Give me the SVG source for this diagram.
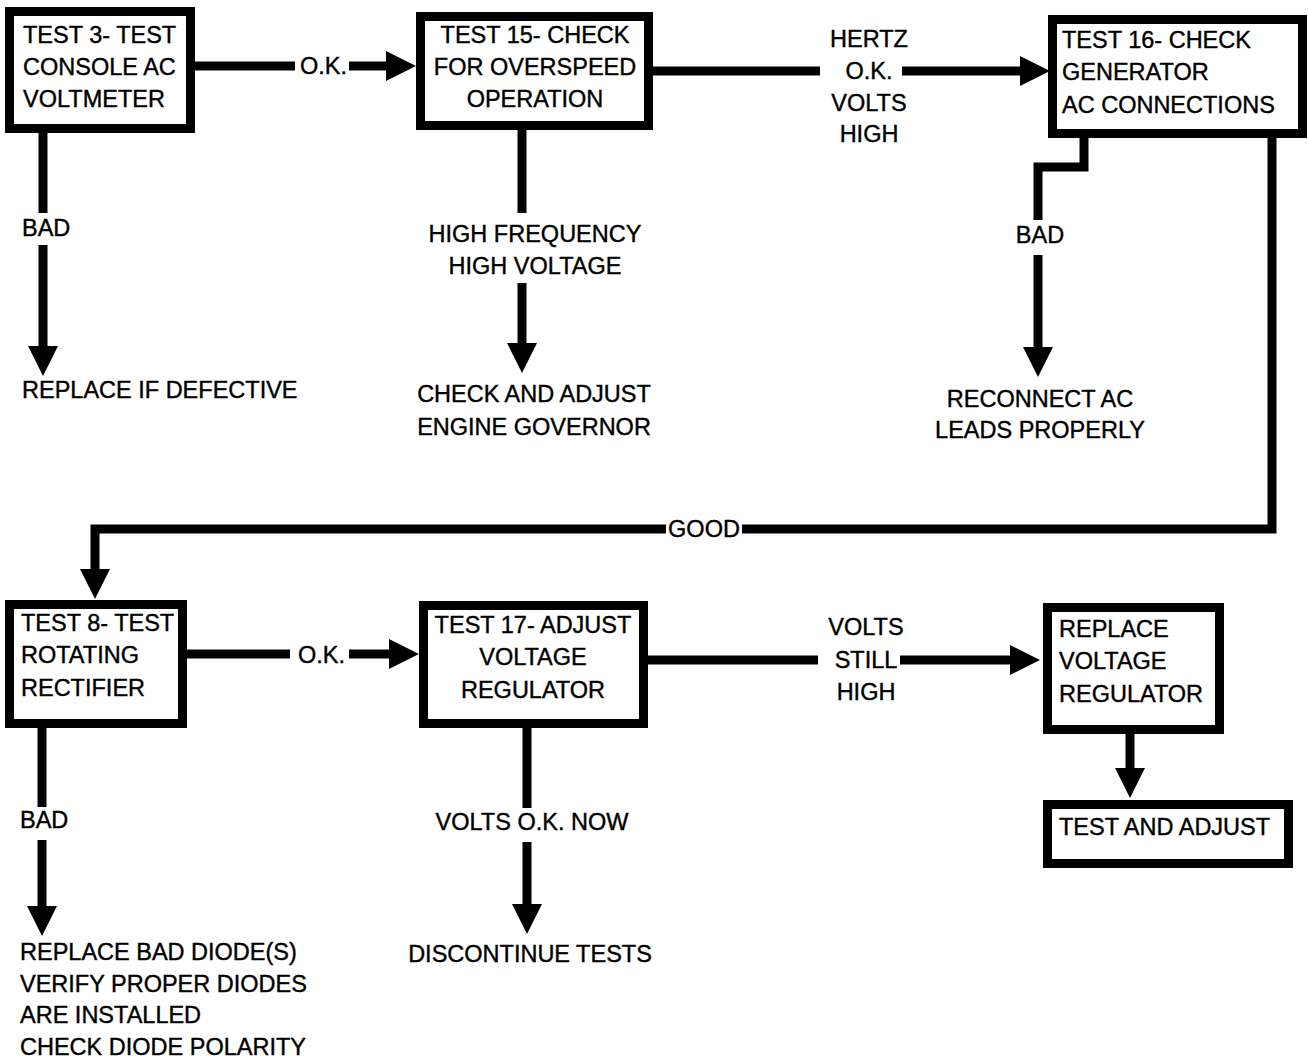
<svg xmlns="http://www.w3.org/2000/svg" width="1308" height="1059" viewBox="0 0 1308 1059">
<defs>
<marker id="ah" markerUnits="userSpaceOnUse" markerWidth="30" markerHeight="30" refX="0" refY="15" orient="auto">
<path d="M0,0 L30,15 L0,30 Z" fill="#000"/>
</marker>
<style>
text{font-family:"Liberation Sans",Arial,sans-serif;font-size:23.5px;fill:#000;stroke:#000;stroke-width:0.4}
.box{fill:#fff;stroke:#000;stroke-width:9}
.c{text-anchor:middle}
.ln{fill:none;stroke:#000;stroke-width:9}
.ar{fill:none;stroke:#000;stroke-width:9;marker-end:url(#ah)}
</style>
</defs>
<rect width="1308" height="1059" fill="#fff"/>
<g id="connectors">
<path class="ln" d="M195,66 H295"/>
<path class="ar" d="M349,66 H386"/>
<path class="ln" d="M43,133 V213"/>
<path class="ar" d="M43,245 V346"/>
<path class="ln" d="M522,130 V213"/>
<path class="ar" d="M522,283 V343"/>
<path class="ln" d="M653,71 H820"/>
<path class="ar" d="M902,71 H1020"/>
<path class="ln" d="M1084,138 V167 H1038 V220"/>
<path class="ar" d="M1038,255 V347"/>
<path class="ln" d="M1272,138 V529 H742"/>
<path class="ar" d="M666,529 H95 V569"/>
<path class="ln" d="M187,654 H290"/>
<path class="ar" d="M349,654 H389"/>
<path class="ln" d="M42,728 V807"/>
<path class="ar" d="M42,840 V906"/>
<path class="ln" d="M527,728 V808"/>
<path class="ar" d="M527,842 V904"/>
<path class="ln" d="M648,660 H818"/>
<path class="ar" d="M900,660 H1010"/>
<path class="ar" d="M1130,734 V768"/>
<text x="300" y="74">O.K.</text>
<text x="22" y="236">BAD</text>
<text class="c" x="535" y="242">HIGH FREQUENCY</text>
<text class="c" x="535" y="274">HIGH VOLTAGE</text>
<text class="c" x="869" y="47">HERTZ</text>
<text class="c" x="869" y="79">O.K.</text>
<text class="c" x="869" y="111">VOLTS</text>
<text class="c" x="869" y="142">HIGH</text>
<text class="c" x="1040" y="243">BAD</text>
<text class="c" x="704" y="537">GOOD</text>
<text x="298" y="663">O.K.</text>
<text x="20" y="828">BAD</text>
<text class="c" x="532" y="830">VOLTS O.K. NOW</text>
<text class="c" x="866" y="635">VOLTS</text>
<text class="c" x="866" y="668">STILL</text>
<text class="c" x="866" y="700">HIGH</text>
</g>
<g id="test3">
<rect class="box" x="9.5" y="11.5" width="181" height="117"/>
<text x="23" y="43">TEST 3- TEST</text>
<text x="23" y="75">CONSOLE AC</text>
<text x="23" y="107">VOLTMETER</text>
</g>
<g id="replace-defective">
<text x="22" y="398">REPLACE IF DEFECTIVE</text>
</g>
<g id="test15">
<rect class="box" x="420.5" y="16.5" width="228" height="109"/>
<text class="c" x="535" y="43">TEST 15- CHECK</text>
<text class="c" x="535" y="75">FOR OVERSPEED</text>
<text class="c" x="535" y="107">OPERATION</text>
</g>
<g id="governor">
<text class="c" x="534" y="402">CHECK AND ADJUST</text>
<text class="c" x="534" y="435">ENGINE GOVERNOR</text>
</g>
<g id="test16">
<rect class="box" x="1052.5" y="19.5" width="250" height="114"/>
<text x="1062" y="48">TEST 16- CHECK</text>
<text x="1062" y="80">GENERATOR</text>
<text x="1062" y="113">AC CONNECTIONS</text>
</g>
<g id="reconnect">
<text class="c" x="1040" y="407">RECONNECT AC</text>
<text class="c" x="1040" y="438">LEADS PROPERLY</text>
</g>
<g id="test8">
<rect class="box" x="9.5" y="604.5" width="173" height="119"/>
<text x="21" y="631">TEST 8- TEST</text>
<text x="21" y="663">ROTATING</text>
<text x="21" y="696">RECTIFIER</text>
</g>
<g id="diodes">
<text x="20" y="960">REPLACE BAD DIODE(S)</text>
<text x="20" y="992">VERIFY PROPER DIODES</text>
<text x="20" y="1023">ARE INSTALLED</text>
<text x="20" y="1055">CHECK DIODE POLARITY</text>
</g>
<g id="test17">
<rect class="box" x="423.5" y="605.5" width="220" height="118"/>
<text class="c" x="533" y="633">TEST 17- ADJUST</text>
<text class="c" x="533" y="665">VOLTAGE</text>
<text class="c" x="533" y="698">REGULATOR</text>
</g>
<g id="discontinue">
<text class="c" x="530" y="962">DISCONTINUE TESTS</text>
</g>
<g id="replace-regulator">
<rect class="box" x="1047.5" y="607.5" width="172" height="122"/>
<text x="1059" y="637">REPLACE</text>
<text x="1059" y="669">VOLTAGE</text>
<text x="1059" y="702">REGULATOR</text>
</g>
<g id="test-adjust">
<rect class="box" x="1047.5" y="804.5" width="241" height="59"/>
<text x="1059" y="835">TEST AND ADJUST</text>
</g>
</svg>
